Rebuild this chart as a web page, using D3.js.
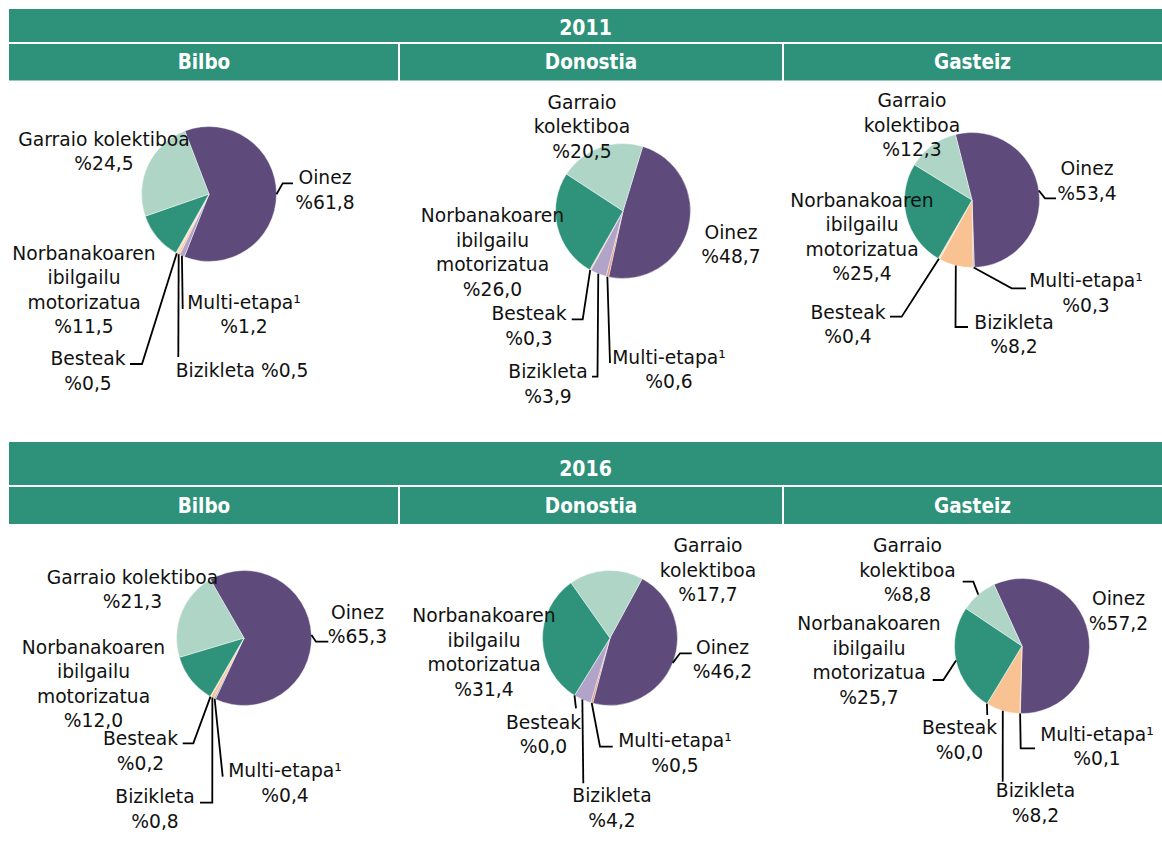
<!DOCTYPE html>
<html>
<head>
<meta charset="utf-8">
<script src="https://cdn.jsdelivr.net/npm/d3@7"></script>
<style>
  body { margin: 0; background: #fff; }
  text { font-family: "DejaVu Sans", sans-serif; }
  text.head { font-family: "DejaVu Sans Condensed", "DejaVu Sans", sans-serif; font-stretch: condensed; }
</style>
</head>
<body>
<div class="pies"></div>
<script>
// categories, clockwise from the "Oinez" slice
var categories = ["Oinez", "Multi-etapa¹", "Bizikleta", "Besteak", "Norbanakoaren ibilgailu motorizatua", "Garraio kolektiboa"];
var years = ["2011", "2016"];
var cities = ["Bilbo", "Donostia", "Gasteiz"];

var bilbo2011    = [61.8, 1.2, 0.5, 0.5, 11.5, 24.5];
var donostia2011 = [48.7, 0.6, 3.9, 0.3, 26.0, 20.5];
var gasteiz2011  = [53.4, 0.3, 8.2, 0.4, 25.4, 12.3];
var bilbo2016    = [65.3, 0.4, 0.8, 0.2, 12.0, 21.3];
var donostia2016 = [46.2, 0.5, 4.2, 0.0, 31.4, 17.7];
var gasteiz2016  = [57.2, 0.1, 8.2, 0.0, 25.7, 8.8];

var series = [bilbo2011, donostia2011, gasteiz2011, bilbo2016, donostia2016, gasteiz2016];

// colours
var purple = "#5f4b7b", light = "#afd5c7", green = "#2e937a",
    lav = "#b2a4c9", peach = "#f8c292", salmon = "#df9a82", pale = "#f6dcc2";
var header = "#2e927a";

var width = 1162, height = 846, r = 67.5;
var lineH = 24.5;

// layout of each pie: centre, first slice angle, colours, label placement
var layout = [
  { cx: 209, cy: 194, start: -21, colors: [purple, lav, peach, pale, green, light],
    labels: [
      { x: 325, y: 184, mode: "stack", lead: [[282.7, 183.3], [293, 183.3]] },
      { x: 244, y: 308.5, mode: "one", lead: [[182.7, 309]] },
      { x: 175.7, y: 377, a: "start", mode: "inline", lead: [[178.3, 357]] },
      { x: 88, y: 365, mode: "stack", lead: [[142, 364], [130, 364]] },
      { x: 84, y: 259.5, mode: "stack" },
      { x: 104, y: 145.5, mode: "one" } ] },
  { cx: 623, cy: 211, start: 17, colors: [purple, salmon, lav, peach, green, light],
    labels: [
      { x: 731, y: 238.5, mode: "stack" },
      { x: 669, y: 363.5, mode: "one", lead: [[610, 363]] },
      { x: 548, y: 378, mode: "stack", lead: [[597.5, 376.7], [592, 376.7]] },
      { x: 529, y: 320, mode: "stack", lead: [[582.7, 319.3], [571.7, 319.3]] },
      { x: 492.5, y: 222, mode: "stack" },
      { x: 582, y: 108.5, mode: "stack" } ] },
  { cx: 972, cy: 200, start: -14.2, colors: [purple, lav, peach, pale, green, light],
    labels: [
      { x: 1087, y: 175, mode: "stack", lead: [[1045, 198.3], [1056, 198.3]] },
      { x: 1086, y: 287, mode: "one", lead: [[1011.7, 288.3], [1026, 288.3]] },
      { x: 1014, y: 328.5, mode: "stack", lead: [[955.5, 327], [968, 327]] },
      { x: 848, y: 318.5, mode: "stack", lead: [[901.7, 316.7], [890, 316.7]] },
      { x: 862, y: 206.5, mode: "stack" },
      { x: 912, y: 107, mode: "stack" } ] },
  { cx: 244, cy: 638, start: -30, colors: [purple, lav, peach, pale, green, light],
    labels: [
      { x: 357.5, y: 618.5, mode: "stack", lead: [[316, 641.7], [328.3, 641.7]] },
      { x: 285, y: 777, mode: "one", lead: [[222.7, 776.7]] },
      { x: 155, y: 803, mode: "stack", lead: [[212.3, 802.7], [200, 802.7]] },
      { x: 140.5, y: 745, mode: "stack", lead: [[193.3, 743.3], [182.7, 743.3]] },
      { x: 93.5, y: 653.5, mode: "stack" },
      { x: 132.5, y: 583.5, mode: "one" } ] },
  { cx: 610, cy: 638, start: 28.5, colors: [purple, salmon, lav, peach, green, light],
    labels: [
      { x: 722.5, y: 653.5, mode: "stack", lead: [[680, 653.3], [691.7, 653.3]] },
      { x: 675, y: 747, mode: "one", lead: [[600, 746.7], [612.7, 746.7]] },
      { x: 612, y: 802, mode: "stack", lead: [[583.3, 783.3]] },
      { x: 543.5, y: 728.5, mode: "stack", lead: [[576, 708.3]] },
      { x: 484, y: 622, mode: "stack" },
      { x: 708, y: 552, mode: "stack" } ] },
  { cx: 1022, cy: 646, start: -24.5, colors: [purple, lav, peach, pale, green, light],
    labels: [
      { x: 1118.5, y: 605, mode: "stack" },
      { x: 1097, y: 740.5, mode: "one", lead: [[1020.7, 748.3], [1035, 748.3]] },
      { x: 1035.5, y: 797, mode: "stack", lead: [[1002.7, 781.7]] },
      { x: 959.5, y: 734, mode: "stack", lead: [[987.3, 715]] },
      { x: 869, y: 630, mode: "stack", lead: [[943.3, 680], [932.7, 680]] },
      { x: 907.5, y: 552, mode: "stack", lead: [[973.3, 581.7], [962.7, 581.7]] } ] }
];

// header bands: year row and city row for each block
var blocks = [
  { yearTop: 9,   yearH: 33, cityTop: 44,  cityH: 36.5, yearBase: 35, cityBase: 68.5 },
  { yearTop: 442, yearH: 43, cityTop: 487, cityH: 37,   yearBase: 475.5,  cityBase: 512.5 }
];
var colEdges = [9, 399, 783, 1162];

var locale = d3.formatLocale({ decimal: ",", thousands: ".", grouping: [3], currency: ["", ""] });
var fmt = locale.format(".1f");

var svg = d3.select(".pies")
  .append("svg")
    .attr("width", width)
    .attr("height", height);

// headers
blocks.forEach(function (b, i) {
  var g = svg.append("g");
  g.append("rect")
    .attr("x", colEdges[0]).attr("y", b.yearTop)
    .attr("width", colEdges[3] - colEdges[0]).attr("height", b.yearH)
    .attr("fill", header);
  g.append("text")
    .attr("class", "head")
    .attr("x", (colEdges[0] + colEdges[3]) / 2)
    .attr("y", b.yearBase)
    .attr("text-anchor", "middle")
    .attr("fill", "#fff")
    .attr("font-weight", "bold")
    .attr("font-size", "21px")
    .text(years[i]);

  g.selectAll(".city")
    .data(cities)
    .enter()
    .append("rect")
      .attr("x", function (d, j) { return colEdges[j] + (j > 0 ? 1 : 0); })
      .attr("y", b.cityTop)
      .attr("width", function (d, j) { return colEdges[j + 1] - colEdges[j] - (j > 0 ? 1 : 0) - (j < 2 ? 1 : 0); })
      .attr("height", b.cityH)
      .attr("fill", header);

  g.selectAll(".cityname")
    .data(cities)
    .enter()
    .append("text")
      .attr("class", "head")
      .attr("x", function (d, j) { return (colEdges[j] + colEdges[j + 1]) / 2; })
      .attr("y", b.cityBase)
      .attr("text-anchor", "middle")
      .attr("fill", "#fff")
      .attr("font-weight", "bold")
      .attr("font-size", "20.5px")
      .text(function (d) { return d; });
});

// pies
var arcOuter = d3.arc().innerRadius(0).outerRadius(r);
var arcEdge = d3.arc().innerRadius(r).outerRadius(r);

series.forEach(function (values, k) {
  var L = layout[k];
  var rad = Math.PI / 180;
  var pie = d3.pie()
    .sort(null)
    .value(function (d) { return d; })
    .startAngle(L.start * rad)
    .endAngle(L.start * rad + 2 * Math.PI);
  var arcs = pie(values);

  var g = svg.append("g")
    .attr("transform", "translate(" + L.cx + "," + L.cy + ")");

  g.selectAll("path")
    .data(arcs)
    .enter()
    .append("path")
      .attr("d", arcOuter)
      .attr("fill", function (d, i) { return L.colors[i]; })
      .attr("stroke", "#fff")
      .attr("stroke-width", 0.4);

  // leader lines
  arcs.forEach(function (d, i) {
    var lab = L.labels[i];
    if (!lab.lead) return;
    var p = arcEdge.centroid(d);
    var pts = [[L.cx + p[0], L.cy + p[1]]].concat(lab.lead);
    svg.append("path")
      .attr("d", d3.line()(pts))
      .attr("fill", "none")
      .attr("stroke", "#000")
      .attr("stroke-width", 1.8);
  });

  // labels
  arcs.forEach(function (d, i) {
    var lab = L.labels[i];
    var name = categories[i];
    var val = "%" + fmt(values[i]);
    var lines;
    if (lab.mode === "inline") lines = [name + " " + val];
    else if (lab.mode === "one") lines = [name, val];
    else lines = name.split(" ").concat([val]);

    var t = svg.append("text")
      .attr("text-anchor", lab.a || "middle")
      .attr("font-size", "18.7px")
      .attr("fill", "#111");
    lines.forEach(function (s, j) {
      t.append("tspan")
        .attr("x", lab.x)
        .attr("y", lab.y + j * lineH)
        .text(s);
    });
  });
});
</script>
</body>
</html>
